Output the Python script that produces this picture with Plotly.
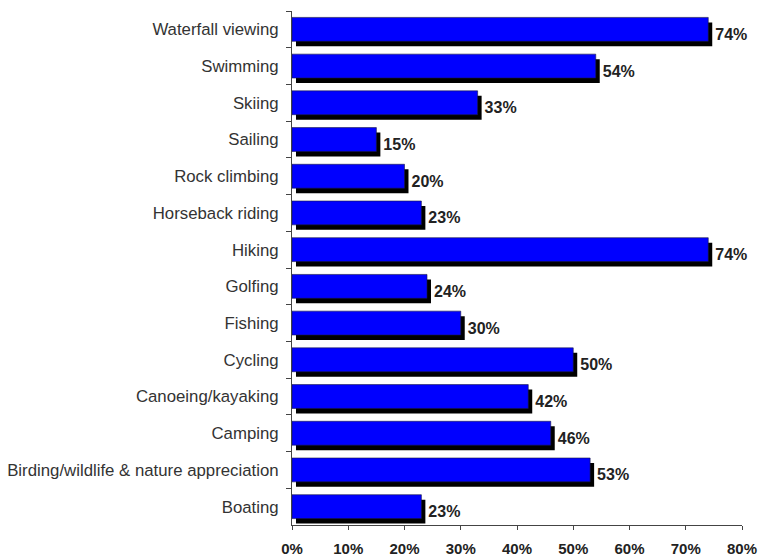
import plotly.graph_objects as go

categories = ["Waterfall viewing", "Swimming", "Skiing", "Sailing", "Rock climbing",
              "Horseback riding", "Hiking", "Golfing", "Fishing", "Cycling",
              "Canoeing/kayaking", "Camping", "Birding/wildlife & nature appreciation", "Boating"]
values = [74, 54, 33, 15, 20, 23, 74, 24, 30, 50, 42, 46, 53, 23]
tick_vals = [0, 10, 20, 30, 40, 50, 60, 70, 80]
tick_text = ["0%", "10%", "20%", "30%", "40%", "50%", "60%", "70%", "80%"]

n = len(categories)
dx = 0.71   # shadow shift (data units) ~4px
dy = 0.136  # shadow shift (category units) ~5px

font_fam = "Arial, Liberation Sans, sans-serif"

fig = go.Figure()
# shadow on main axes (drawn below)
fig.add_trace(go.Bar(
    x=values, y=categories, orientation="h", width=0.65,
    marker=dict(color="#000000", line=dict(width=0)),
    text=[f"{v}%" for v in values], textposition="outside",
    textfont=dict(family=font_fam, size=16, color="#222222", weight="bold"),
    cliponaxis=False, xaxis="x", yaxis="y", hoverinfo="skip",
))
# blue bars on overlay axes
fig.add_trace(go.Bar(
    x=values, y=categories, orientation="h", width=0.65,
    marker=dict(color="#0000FF", line=dict(width=0.6, color="#1a1a40")),
    xaxis="x2", yaxis="y2",
))

fig.update_layout(
    width=760, height=556,
    margin=dict(l=292, r=18, t=11, b=31, autoexpand=False),
    paper_bgcolor="white", plot_bgcolor="white",
    showlegend=False, barmode="overlay",
    xaxis=dict(range=[-dx, 80 - dx], visible=False, fixedrange=True),
    yaxis=dict(type="category", categoryorder="array", categoryarray=categories,
               range=[n - 0.5 - dy, -0.5 - dy], visible=False),
    xaxis2=dict(overlaying="x", anchor="y2", side="bottom", range=[0, 80],
                tickvals=tick_vals, ticktext=tick_text,
                showgrid=False, zeroline=False, showline=True, linecolor="#444444", linewidth=1,
                ticks="outside", ticklen=4, tickcolor="#444444", ticklabelstandoff=6,
                tickfont=dict(family=font_fam, size=15, color="#222222", weight="bold"),
                ),
    yaxis2=dict(overlaying="y", anchor="x2", side="left", type="category",
                categoryorder="array", categoryarray=categories,
                range=[n - 0.5, -0.5], tickson="boundaries",
                showgrid=False, zeroline=False, showline=True, linecolor="#444444", linewidth=1,
                ticks="outside", ticklen=5, tickcolor="#444444", ticklabelstandoff=9,
                tickfont=dict(family=font_fam, size=16.8, color="#333333"),
                ),
)
fig.write_html("out.html")
